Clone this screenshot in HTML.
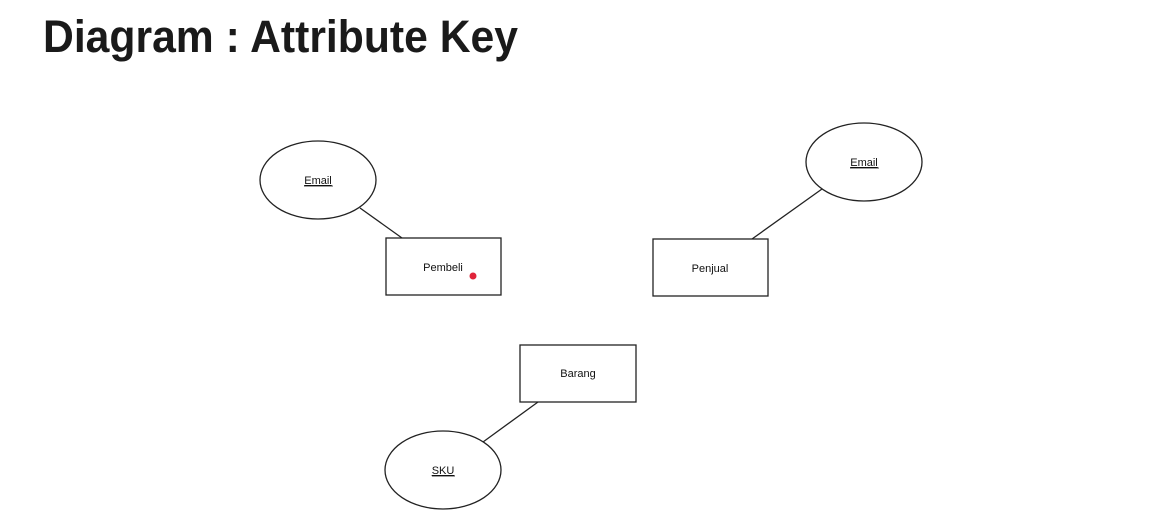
<!DOCTYPE html>
<html><head><meta charset="utf-8"><style>
html,body{margin:0;padding:0;background:#fff;width:1157px;height:520px;overflow:hidden}
</style></head><body>
<svg width="1157" height="520" xmlns="http://www.w3.org/2000/svg" font-family="Liberation Sans, sans-serif">
<text x="43" y="52" font-size="45" font-weight="bold" fill="#1a1a1a" textLength="475" lengthAdjust="spacingAndGlyphs">Diagram : Attribute Key</text>
<g stroke="#222" stroke-width="1.3" fill="#fff">
<line x1="360" y1="208" x2="402" y2="238"/>
<line x1="822" y1="189" x2="752" y2="239"/>
<line x1="538" y1="402" x2="483" y2="442"/>
<ellipse cx="318" cy="180" rx="58" ry="39"/>
<ellipse cx="864" cy="162" rx="58" ry="39"/>
<ellipse cx="443" cy="470" rx="58" ry="39"/>
<rect x="386" y="238" width="115" height="57"/>
<rect x="653" y="239" width="115" height="57"/>
<rect x="520" y="345" width="116" height="57"/>
</g>
<g font-size="11" fill="#111" text-anchor="middle">
<text x="318" y="184" text-decoration="underline">Email</text>
<text x="864" y="166" text-decoration="underline">Email</text>
<text x="443" y="474" text-decoration="underline">SKU</text>
<text x="443" y="271">Pembeli</text>
<text x="710" y="272">Penjual</text>
<text x="578" y="377">Barang</text>
</g>
<g stroke="#111" stroke-width="0.8">
<line x1="304" y1="186" x2="333" y2="186"/>
<line x1="850" y1="168" x2="879" y2="168"/>
<line x1="432" y1="476" x2="455" y2="476"/>
</g>
<circle cx="473" cy="276" r="3.5" fill="#e0243a"/>
</svg>
</body></html>
